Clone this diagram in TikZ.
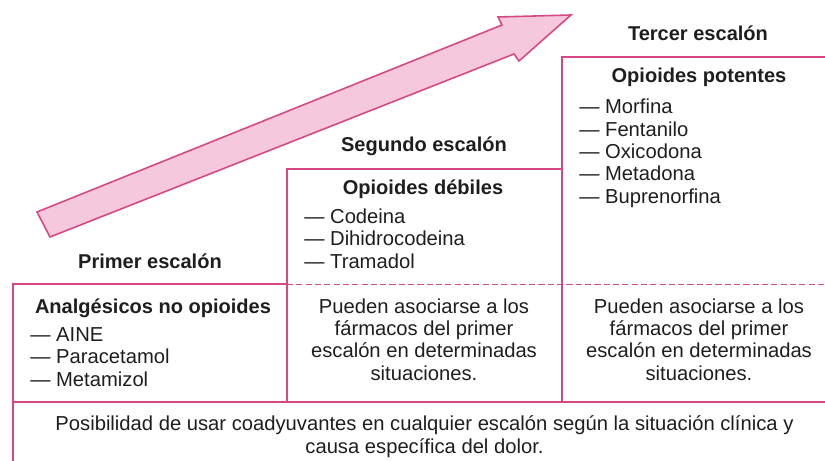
\documentclass[tikz,border=0pt]{standalone}
\usepackage{fontspec}
\setmainfont{Liberation Sans}
\usepackage{tikz}
\usetikzlibrary{positioning}
\definecolor{escpink}{RGB}{214,72,132}
\definecolor{escfill}{RGB}{245,200,221}
\definecolor{esctext}{RGB}{30,30,30}
\tikzset{
  esctxt/.style={font=\fontsize{11.5}{12.8}\selectfont,text=esctext,inner sep=0pt,anchor=base},
  eschead/.style={esctxt,font=\fontsize{11.4}{12.8}\selectfont\bfseries},
  esclist/.style={esctxt,align=left,anchor=base west},
  escpar/.style={esctxt,align=center},
  escline/.style={draw=escpink,line width=1.1pt}
}

\begin{document}
\begin{tikzpicture}
\useasboundingbox (0,0) rectangle (16.5,9.22);
% arrow going up the steps
\draw[fill=escfill,draw=escpink,line width=0.9pt,line join=miter]
  (0.74,4.98) -- (10.04,8.72) -- (9.96,8.88) -- (11.42,8.92) -- (10.38,8.00) -- (10.28,8.14) -- (1.00,4.48) -- cycle;
% steps
\draw[escline] (0.26,-0.1) -- (0.26,3.54) -- (5.74,3.54);
\draw[escline] (5.74,1.18) -- (5.74,5.84) -- (11.24,5.84);
\draw[escline] (11.24,1.18) -- (11.24,8.08) -- (16.6,8.08);
\draw[escline,dash pattern=on 3.5pt off 1.8pt] (5.74,3.53) -- (16.6,3.53);
\draw[escline] (0.26,1.18) -- (16.6,1.18);
% step titles
\node[eschead] (tercer) at (13.96,8.40) {Tercer escalón};
\node[eschead] (segundo) at (8.48,6.19) {Segundo escalón};
\node[eschead] (primer) at (3.00,3.85) {Primer escalón};
% third step (base = last line)
\node[eschead] (potentes) at (13.98,7.56) {Opioides potentes};
\node[esclist] (listpot) at (11.58,5.15) {— Morfina\\— Fentanilo\\— Oxicodona\\— Metadona\\— Buprenorfina};
\node[escpar] (asoc3) at (13.98,1.61) {Pueden asociarse a los\\fármacos del primer\\escalón en determinadas\\situaciones.};
% second step
\node[eschead] (debiles) at (8.46,5.33) {Opioides débiles};
\node[esclist] (listdeb) at (6.08,3.85) {— Codeina\\— Dihidrocodeina\\— Tramadol};
\node[escpar] (asoc2) at (8.48,1.61) {Pueden asociarse a los\\fármacos del primer\\escalón en determinadas\\situaciones.};
% first step
\node[eschead] (noopio) at (3.06,2.95) {Analgésicos no opioides};
\node[esclist] (listno) at (0.60,1.49) {— AINE\\— Paracetamol\\— Metamizol};
% bottom row
\node[escpar] (coady) at (8.49,0.15) {Posibilidad de usar coadyuvantes en cualquier escalón según la situación clínica y\\causa específica del dolor.};
\end{tikzpicture}
\end{document}
